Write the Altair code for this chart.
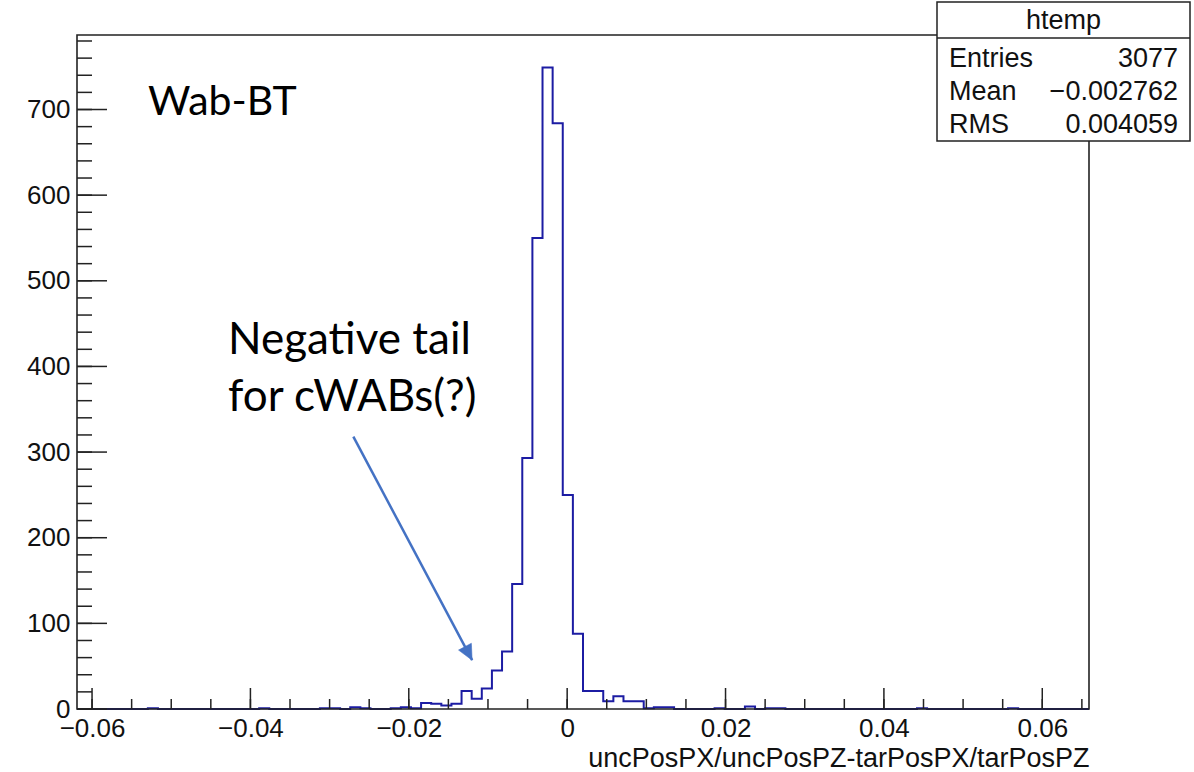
import altair as alt
import pandas as pd

# ---- histogram: 100 equal bins over the automatic htemp range ----
X_LO, X_HI = -0.0619, 0.0659
N_BINS = 100
Y_TOP = 787  # 1.05 x maximum bin content

counts = [
    0, 0, 0, 0, 0, 0, 0, 1, 0, 0,        # bins 0-9
    0, 0, 0, 0, 0, 0, 0, 0, 1, 0,        # bins 10-19
    0, 0, 0, 0, 1, 1, 0, 2, 1, 0,        # bins 20-29
    0, 1, 2, 1, 7, 6, 4, 6, 21, 12,      # bins 30-39
    24, 45, 67, 146, 293, 550, 749, 684, 250, 88,  # bins 40-49
    21, 21, 9, 15, 9, 9, 1, 2, 2, 0,     # bins 50-59
    0, 0, 0, 1, 0, 0, 3, 0, 1, 1,        # bins 60-69
    0, 0, 0, 0, 0, 0, 0, 0, 0, 0,        # bins 70-79
    0, 0, 0, 1, 0, 0, 0, 0, 0, 0,        # bins 80-89
    0, 0, 1, 0, 0, 0, 0, 0, 0, 0,        # bins 90-99
]

x_major = [-0.06, -0.04, -0.02, 0.0, 0.02, 0.04, 0.06]
x_minor = [round(-0.06 + 0.005 * i, 3) for i in range(26)]
y_major = [0, 100, 200, 300, 400, 500, 600, 700]
y_minor = list(range(0, 781, 20))

stats_title = "htemp"
stats_names = ["Entries", "Mean", "RMS"]
stats_values = ["3077", "\u22120.002762", "0.004059"]

x_title = "uncPosPX/uncPosPZ-tarPosPX/tarPosPZ"
sample_label = "Wab-BT"
note_lines = ["Negative tail", "for cWABs(?)"]
arrow_from = (-0.0270, 318)
arrow_to = (-0.0120, 57)

W, H = 1012, 674
ROOT_FONT = "Liberation Sans"
NOTE_FONT = "Lato"
LINE_BLUE = "#1c1ca3"
ARROW_BLUE = "#4472C4"

width = (X_HI - X_LO) / N_BINS
edges = [X_LO + k * width for k in range(N_BINS + 1)]
hist = pd.DataFrame({"edge": edges, "count": counts + [counts[-1]]})

xscale = alt.Scale(domain=[X_LO, X_HI], nice=False, zero=False)
yscale = alt.Scale(domain=[0, Y_TOP], nice=False, zero=False)

# one axis definition per channel, shared by every layer so they merge
xaxis = alt.Axis(
    values=x_major, grid=False, ticks=False, tickSize=0, domain=False,
    labelExpr="datum.value == 0 ? '0' : replace(format(datum.value, '.2f'), '-', '\u2212')",
    labelFont=ROOT_FONT, labelFontSize=26, labelColor="#111111", labelPadding=6,
    labelFlush=False,
    title=x_title, titleFont=ROOT_FONT, titleFontSize=27, titleFontWeight="normal",
    titleColor="#111111", titleAnchor="end", titlePadding=4, zindex=1,
)
yaxis = alt.Axis(
    values=y_major, grid=False, ticks=False, tickSize=0, domain=False,
    labelFont=ROOT_FONT, labelFontSize=26, labelColor="#111111", labelPadding=7,
    labelFlush=False, title=None, zindex=1,
)

hist_line = alt.Chart(hist).mark_line(
    interpolate="step-after", color=LINE_BLUE, strokeWidth=2
).encode(
    x=alt.X("edge:Q", scale=xscale, axis=xaxis, title=x_title),
    y=alt.Y("count:Q", scale=yscale, axis=yaxis, title=None),
)

frame = alt.Chart(pd.DataFrame({"f": [0]})).mark_rect(
    filled=False, stroke="#222222", strokeWidth=1.6
).encode(x=alt.value(0), x2=alt.value(W), y=alt.value(0), y2=alt.value(H))

def x_ticks(vals, length):
    return alt.Chart(pd.DataFrame({"v": vals})).mark_rule(
        color="#222222", strokeWidth=1.5
    ).encode(
        x=alt.X("v:Q", scale=xscale, axis=xaxis, title=x_title),
        y=alt.value(H), y2=alt.value(H - length),
    )

def y_ticks(vals, length):
    return alt.Chart(pd.DataFrame({"v": vals})).mark_rule(
        color="#222222", strokeWidth=1.5
    ).encode(
        y=alt.Y("v:Q", scale=yscale, axis=yaxis, title=None),
        x=alt.value(0), x2=alt.value(length),
    )

# ---- statistics box ----
BOX_L, BOX_R, BOX_T, BOX_B = 860, 1113, -33, 106
SEP = 3
stats_box = alt.Chart(pd.DataFrame({"f": [0]})).mark_rect(
    fill="white", stroke="#222222", strokeWidth=1.5
).encode(x=alt.value(BOX_L), x2=alt.value(BOX_R), y=alt.value(BOX_T), y2=alt.value(BOX_B))
stats_sep = alt.Chart(pd.DataFrame({"f": [0]})).mark_rule(
    color="#222222", strokeWidth=1.5
).encode(x=alt.value(BOX_L), x2=alt.value(BOX_R), y=alt.value(SEP))

def txt(s, x, y, align, size=27, font=ROOT_FONT, baseline="alphabetic", color="#111111"):
    return alt.Chart(pd.DataFrame({"t": [s]})).mark_text(
        align=align, baseline=baseline, font=font, fontSize=size, color=color
    ).encode(text="t:N", x=alt.value(x), y=alt.value(y))

stats_layers = [stats_box, stats_sep,
                txt(stats_title, (BOX_L + BOX_R) / 2, -6, "center")]
row_y = [32, 65, 98]
for name, val, ry in zip(stats_names, stats_values, row_y):
    stats_layers.append(txt(name, BOX_L + 12, ry, "left"))
    stats_layers.append(txt(val, BOX_R - 12, ry, "right"))

# ---- annotations ----
label_sample = txt(sample_label, 71, 80, "left", size=41, font=NOTE_FONT, color="#000000")
note = [txt(line, 151, 319 + 57 * i, "left", size=44, font=NOTE_FONT, color="#000000")
        for i, line in enumerate(note_lines)]

arrow_df = pd.DataFrame({"x": [arrow_from[0]], "y": [arrow_from[1]],
                         "x2": [arrow_to[0]], "y2": [arrow_to[1]]})
arrow_line = alt.Chart(arrow_df).mark_rule(color=ARROW_BLUE, strokeWidth=2.5).encode(
    x=alt.X("x:Q", scale=xscale, axis=xaxis, title=x_title), x2="x2:Q",
    y=alt.Y("y:Q", scale=yscale, axis=yaxis, title=None), y2="y2:Q",
)
arrow_head = alt.Chart(arrow_df).mark_point(
    shape="M0,0L0.95,2L-0.95,2Z", filled=True, fill=ARROW_BLUE, stroke=ARROW_BLUE,
    strokeWidth=0.5, opacity=1, size=234, angle=152,
).encode(
    x=alt.X("x2:Q", scale=xscale, axis=xaxis, title=x_title),
    y=alt.Y("y2:Q", scale=yscale, axis=yaxis, title=None),
)

chart = alt.layer(
    hist_line, frame,
    x_ticks(x_minor, 10), x_ticks(x_major, 21),
    y_ticks(y_minor, 15), y_ticks(y_major, 30),
    *stats_layers, label_sample, *note, arrow_line, arrow_head,
).properties(
    width=W, height=H,
    autosize="none",
    padding={"left": 77, "top": 35, "right": 105, "bottom": 63},
    background="white",
).configure_view(strokeWidth=0)

chart.save("out.html", embed_options={"renderer": "svg", "actions": False})
